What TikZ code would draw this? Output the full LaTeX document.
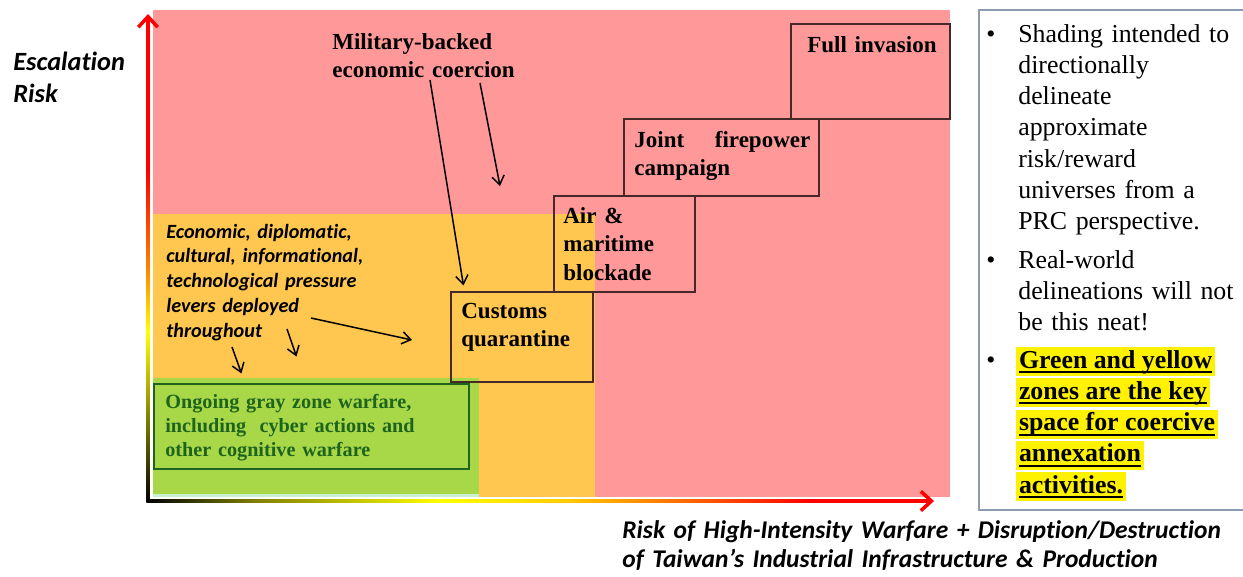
\documentclass[tikz,border=0pt]{standalone}
\usepackage{fontspec}
\setmainfont{Liberation Serif}
\newfontfamily\calibfont[Ligatures=NoCommon]{Carlito}
\usepackage{tikz}
\usetikzlibrary{arrows.meta, positioning, fit}
\definecolor{zonered}{RGB}{255,153,153}
\definecolor{zoneorange}{RGB}{255,199,80}
\definecolor{zonegreen}{RGB}{168,216,72}
\definecolor{zonemint}{RGB}{200,240,210}
\definecolor{graygreen}{RGB}{30,100,30}
\definecolor{boxline}{RGB}{70,40,40}
\definecolor{noteframe}{RGB}{140,155,175}
\pgfdeclareverticalshading{yaxisshade}{100bp}{color(0bp)=(black); color(25bp)=(black); color(33bp)=(black!55!yellow); color(43bp)=(yellow); color(50bp)=(orange); color(60bp)=(red); color(100bp)=(red)}
\pgfdeclarehorizontalshading{xaxisshade}{100bp}{color(0bp)=(black); color(25bp)=(black); color(32bp)=(black!50!yellow); color(44bp)=(yellow); color(52bp)=(yellow!60!orange); color(58bp)=(orange); color(68bp)=(red); color(100bp)=(red)}
\newcommand{\keyul}[1]{\setbox0=\hbox{#1}\rlap{\rule[-2.8pt]{\wd0}{1.1pt}}\box0}

\begin{document}
\begin{tikzpicture}[
    x=0.02cm, y=-0.02cm,
    zonebox/.style={draw=boxline, line width=0.6pt, inner sep=0pt},
    boxtext/.style={anchor=base west, inner sep=0pt, text width=4cm, align=left, font=\bfseries\fontsize{13.1}{16.4}\selectfont},
    levertext/.style={anchor=base west, inner sep=0pt, text width=6cm, align=left, font=\calibfont\bfseries\itshape\fontsize{11.5}{14.2}\selectfont},
    axistext/.style={anchor=base west, inner sep=0pt, text width=13cm, align=left, font=\calibfont\bfseries\itshape\fontsize{14.5}{17}\selectfont},
    notetext/.style={anchor=base west, inner sep=0pt, text width=5cm, align=left, font=\fontsize{14.7}{17.8}\selectfont},
    keyline/.style={anchor=base west, fill=yellow, inner xsep=1.5pt, inner ysep=0pt, text height=12pt, text depth=4.5pt, font=\bfseries\fontsize{14.7}{17.8}\selectfont},
    arrow/.style={-{Straight Barb[length=5pt,width=7pt]}, line width=0.85pt},
    axisarrow/.style={-{Straight Barb[length=6pt,width=11pt]}, line width=2pt, red}
]
\useasboundingbox (0,0) rectangle (1243,576);

% shaded zones
\fill[zonered] (153,10) rectangle (950,497);
\fill[zoneorange] (153,214) rectangle (595,497);
\fill[zonegreen] (153,378) rectangle (479,497);
\fill[zonemint] (153,494) rectangle (479,497);

% axes
\fill[shading=yaxisshade] (146.5,502.5) rectangle (149.5,30);
\draw[axisarrow] (148,40) -- (148,14);
\fill[shading=xaxisshade] (146.5,499.5) rectangle (920,502.5);
\draw[axisarrow] (905,501) -- (934,501);
\node[axistext, font=\calibfont\bfseries\itshape\fontsize{15}{18.6}\selectfont, text width=3cm] (ylabel) at (13,70) {Escalation\\Risk};
\node[axistext] (xlabel) at (622,538) {Risk of High-Intensity Warfare + Disruption/Destruction\\of Taiwan’s Industrial Infrastructure \& Production};

% step boxes
\node[zonebox, fit={(791,24) (950,119)}] (invasion) {};
\node[zonebox, fit={(624,119) (819,196)}] (joint) {};
\node[zonebox, fit={(554,196) (695,292)}] (blockade) {};
\node[zonebox, fit={(451,292) (593,382)}] (customs) {};
\node[zonebox, draw=graygreen, fit={(154,384) (469,469)}] (grayzone) {};

\node[boxtext] (invasiontxt) at (807,52) {Full invasion};
\node[boxtext, text width=3.52cm] (jointtxt) at (634,147) {Joint \hfill firepower\\campaign};
\node[boxtext] (blockadetxt) at (563,223) {Air \&\\maritime\\blockade};
\node[boxtext] (customstxt) at (461,318) {Customs\\quarantine};
\node[boxtext, text width=6cm, text=graygreen, font=\bfseries\fontsize{11.5}{13.9}\selectfont] (grayzonetxt) at (165,408) {Ongoing gray zone warfare,\\including\ \ cyber actions and\\other cognitive warfare};
\node[boxtext] (coercion) at (332,49) {Military-backed\\economic coercion};
\node[levertext] (levers) at (166,238) {Economic, diplomatic,\\cultural, informational,\\technological pressure\\levers deployed\\throughout};

% arrows
\coordinate (coerA) at (430,80);
\coordinate (coerB) at (480,83);
\coordinate (redzone) at (500,186);
\coordinate (leverA) at (311,318);
\coordinate (leverB) at (287,329);
\coordinate (leverC) at (232,347);
\coordinate (orangezone) at (412,340);
\draw[arrow] (coerA) -- ([shift={(13,-6)}]customs.north west);
\draw[arrow] (coerB) -- (redzone);
\draw[arrow] (leverA) -- (orangezone);
\draw[arrow] (leverB) -- ([shift={(143,-27)}]grayzone.north west);
\draw[arrow] (leverC) -- ([shift={(88,-10)}]grayzone.north west);

% notes
\node[draw=noteframe, line width=1pt, inner sep=0pt, fit={(979,10) (1260,510)}] (notes) {};
\node[notetext, text width=0.5cm] (dot1) at (986,42) {\textbullet};
\node[notetext] (note1) at (1018,42) {Shading intended to\\directionally\\delineate\\approximate\\risk/reward\\universes from a\\PRC perspective.};
\node[notetext, text width=0.5cm] (dot2) at (986,268) {\textbullet};
\node[notetext] (note2) at (1018,268) {Real-world\\delineations will not\\be this neat!};
\node[notetext, text width=0.5cm] (dot3) at (986,368) {\textbullet};
\foreach \txt [count=\i] in {Green and yellow, zones are the key, space for coercive, annexation, activities.}
    \node[keyline] (key\i) at (1016,{368+31.3*(\i-1)}) {\keyul{\txt}};

\end{tikzpicture}
\end{document}
